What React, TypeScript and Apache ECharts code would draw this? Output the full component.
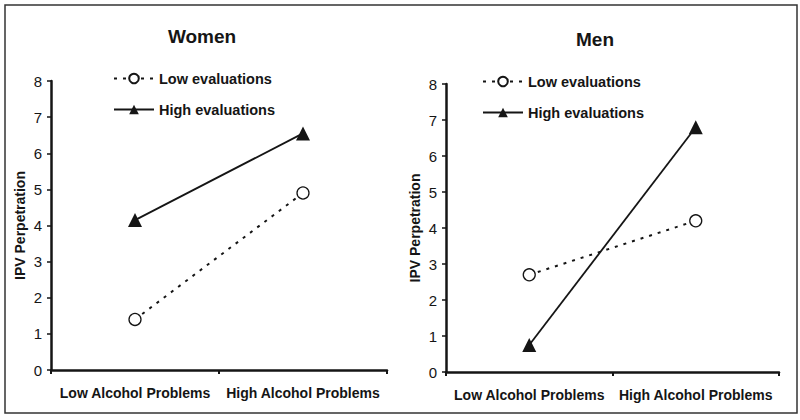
import React, { useEffect, useRef } from "react";
import * as echarts from "echarts";

const categories = ["Low Alcohol Problems", "High Alcohol Problems"];
const yTicks = [0, 1, 2, 3, 4, 5, 6, 7, 8];
const womenLow = [1.4, 4.9];
const womenHigh = [4.15, 6.55];
const menLow = [2.7, 4.2];
const menHigh = [0.75, 6.8];
const panelTitles = ["Women", "Men"];
const seriesNames = ["Low evaluations", "High evaluations"];

const INK = "#151515";
const FONT = "Liberation Sans, Arial, sans-serif";

export default function App() {
  const ref = useRef<HTMLDivElement>(null);
  useEffect(() => {
    if (!ref.current) return;
    const chart = echarts.init(ref.current, null, { renderer: "svg" });
    const grids = [
      { left: 51, top: 81, width: 336, height: 289 },
      { left: 446, top: 84, width: 333, height: 288 },
    ];
    const xAxis = grids.map((_, i) => ({
      type: "category",
      gridIndex: i,
      data: categories,
      boundaryGap: true,
      axisLine: { lineStyle: { color: INK, width: 2.5 } },
      axisTick: { show: true, length: 4, lineStyle: { color: INK, width: 2 } },
      axisLabel: { color: INK, fontFamily: FONT, fontWeight: "bold", fontSize: 14, margin: 16, interval: 0 },
    }));
    const yAxis = grids.map((_, i) => ({
      type: "value",
      gridIndex: i,
      min: yTicks[0],
      max: yTicks[yTicks.length - 1],
      interval: 1,
      name: "IPV Perpetration",
      nameLocation: "middle",
      nameGap: 24,
      nameTextStyle: { color: INK, fontFamily: FONT, fontWeight: "bold", fontSize: 14 },
      axisLine: { show: true, lineStyle: { color: INK, width: 2.5 } },
      axisTick: { show: true, length: 4, lineStyle: { color: INK, width: 1.5 } },
      axisLabel: { color: INK, fontFamily: FONT, fontSize: 15, margin: 9 },
      splitLine: { show: false },
    }));
    const mk = (name: string, data: number[], idx: number, low: boolean) => ({
      name,
      type: "line",
      xAxisIndex: idx,
      yAxisIndex: idx,
      data,
      symbol: low ? "circle" : "triangle",
      symbolSize: low ? 12 : 14,
      itemStyle: low
        ? { color: "#fff", borderColor: INK, borderWidth: 1.3 }
        : { color: INK, borderColor: INK, borderWidth: 0 },
      lineStyle: low
        ? { color: INK, width: 2, type: [3, 6] }
        : { color: INK, width: 1.8, type: "solid" },
      z: low ? 3 : 2,
    });
    const legendBase = {
      orient: "vertical",
      itemWidth: 40,
      itemHeight: 12,
      itemGap: 16,
      padding: 0,
      selectedMode: false,
      data: seriesNames,
      textStyle: { color: INK, fontFamily: FONT, fontWeight: "bold", fontSize: 14.5 },
    };
    const titleStyle = { color: INK, fontFamily: FONT, fontWeight: "bold", fontSize: 19 };
    chart.setOption({
      animation: false,
      backgroundColor: "#fff",
      title: [
        { text: panelTitles[0], left: 202, top: 27, padding: 0, textAlign: "center", textStyle: titleStyle },
        { text: panelTitles[1], left: 595, top: 30, padding: 0, textAlign: "center", textStyle: titleStyle },
      ],
      legend: [
        { ...legendBase, left: 113, top: 71 },
        { ...legendBase, left: 482, top: 74 },
      ],
      grid: grids,
      xAxis,
      yAxis,
      series: [
        mk(seriesNames[0], womenLow, 0, true),
        mk(seriesNames[1], womenHigh, 0, false),
        mk(seriesNames[0], menLow, 1, true),
        mk(seriesNames[1], menHigh, 1, false),
      ],
      graphic: [
        {
          type: "rect",
          shape: { x: 5, y: 5, width: 792, height: 408 },
          style: { fill: "none", stroke: "#333", lineWidth: 1.5 },
          silent: true,
        },
      ],
    });
    return () => chart.dispose();
  }, []);
  return <div ref={ref} style={{ width: 800, height: 420, position: "absolute", left: 0, top: 0 }} />;
}
